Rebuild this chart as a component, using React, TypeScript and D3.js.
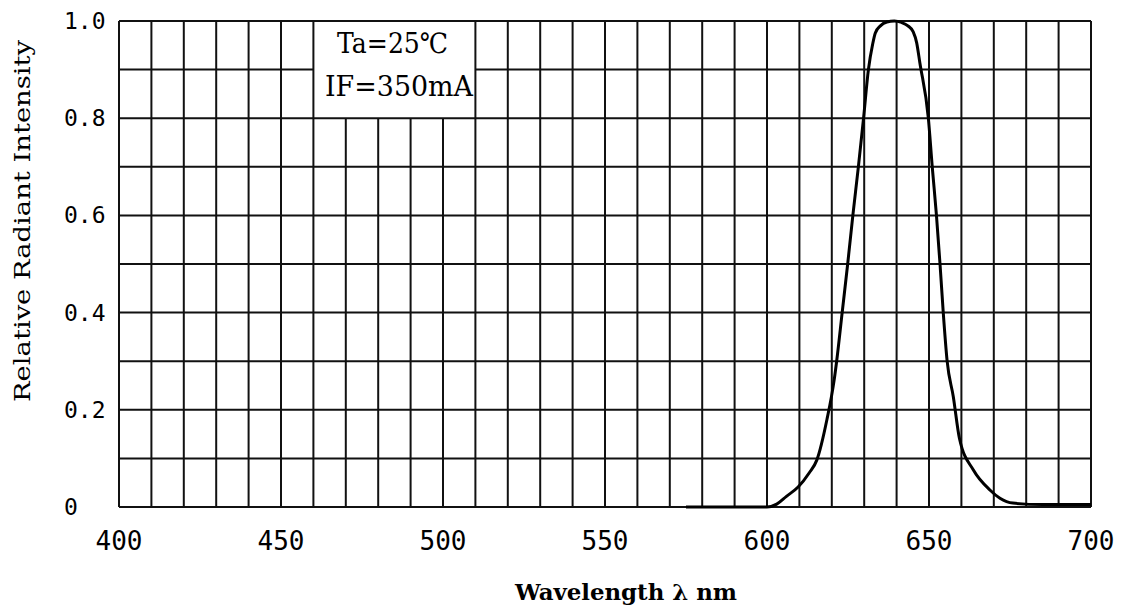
import React from "react";
import * as d3 from "d3";

const xTicks = [400, 450, 500, 550, 600, 650, 700];
const yTicks = [0, 0.2, 0.4, 0.6, 0.8, 1.0];
const yTickLabels = ["0", "0.2", "0.4", "0.6", "0.8", "1.0"];

const wavelength = [575, 585, 595, 600, 603, 606, 609.6, 613, 615.4, 618.5, 620.7, 621.5, 623.2, 624.9, 626.5, 628.2, 629.8, 631.3, 632.6, 633.4, 635, 637, 639.3, 641.5, 643.5, 645.1, 646.2, 647.2, 649.8, 651.0, 652.3, 653.4, 654.4, 655.6, 657.5, 659.4, 663.7, 668.8, 671.9, 675.9, 685, 700];
const intensity = [0.0, 0.0, 0.0, 0.0, 0.006, 0.022, 0.041, 0.07, 0.097, 0.18, 0.26, 0.30, 0.40, 0.50, 0.60, 0.70, 0.80, 0.90, 0.952, 0.975, 0.99, 0.998, 1.0, 0.997, 0.99, 0.978, 0.955, 0.913, 0.80, 0.70, 0.60, 0.50, 0.40, 0.30, 0.227, 0.141, 0.076, 0.035, 0.018, 0.008, 0.005, 0.005];

const noteLines = ["Ta=25℃", "IF=350mA"];
const xLabel = "Wavelength λ nm";
const yLabel = "Relative Radiant Intensity";

export default function App() {
  const W = 1127, H = 612;
  const x = d3.scaleLinear().domain([400, 700]).range([119, 1091]);
  const y = d3.scaleLinear().domain([0, 1]).range([507, 21]);

  const data = wavelength.map((w, i) => [w, intensity[i]] as [number, number]);
  const line = d3.line<[number, number]>()
    .x(d => x(d[0]))
    .y(d => y(d[1]))
    .curve(d3.curveMonotoneX);

  const vLines = d3.range(400, 701, 10);
  const hLines = d3.range(0, 11).map(i => i / 10);
  const boxX0 = 460, boxX1 = 510, boxY0 = 0.8;

  const gridStroke = "#111";
  const serif = "'DejaVu Serif', 'Liberation Serif', serif";
  return (
    <svg width={W} height={H} style={{ position: "absolute", left: 0, top: 0, background: "#fff" }}>
      <rect x={0} y={0} width={W} height={H} fill="#fff" />
      <g stroke={gridStroke} strokeWidth={2} fill="none">
        {vLines.map(v => {
          const inBox = v > boxX0 && v < boxX1;
          return <line key={"v" + v} x1={x(v)} x2={x(v)} y1={y(inBox ? boxY0 : 1)} y2={y(0)} />;
        })}
        {hLines.map(h => {
          if (h > boxY0 + 0.001 && h < 0.999) {
            return (
              <g key={"h" + h}>
                <line x1={x(400)} x2={x(boxX0)} y1={y(h)} y2={y(h)} />
                <line x1={x(boxX1)} x2={x(700)} y1={y(h)} y2={y(h)} />
              </g>
            );
          }
          return <line key={"h" + h} x1={x(400)} x2={x(700)} y1={y(h)} y2={y(h)} />;
        })}
      </g>
      <path d={line(data) || ""} fill="none" stroke="#000" strokeWidth={3} strokeLinejoin="round" />
      <g fontFamily="'DejaVu Sans Mono', monospace" fill="#000">
        {yTicks.map((t, i) => (
          <text key={"yt" + t} x={64} y={y(t) + 8} fontSize={23}>{yTickLabels[i]}</text>
        ))}
        {xTicks.map(t => (
          <text key={"xt" + t} x={x(t)} y={550} fontSize={26} textAnchor="middle">{t}</text>
        ))}
      </g>
      <g fontFamily={serif} fill="#000">
        <text x={392.5} y={53} fontSize={28} textAnchor="middle" textLength={111} lengthAdjust="spacingAndGlyphs">{noteLines[0]}</text>
        <text x={399} y={96} fontSize={28} textAnchor="middle" textLength={148} lengthAdjust="spacingAndGlyphs">{noteLines[1]}</text>
        <text x={626} y={600} fontSize={22} fontWeight="bold" textAnchor="middle" textLength={222} lengthAdjust="spacingAndGlyphs">{xLabel}</text>
        <text transform={`translate(30, 221) rotate(-90)`} fontSize={22} textAnchor="middle" textLength={362} lengthAdjust="spacingAndGlyphs">{yLabel}</text>
      </g>
    </svg>
  );
}
